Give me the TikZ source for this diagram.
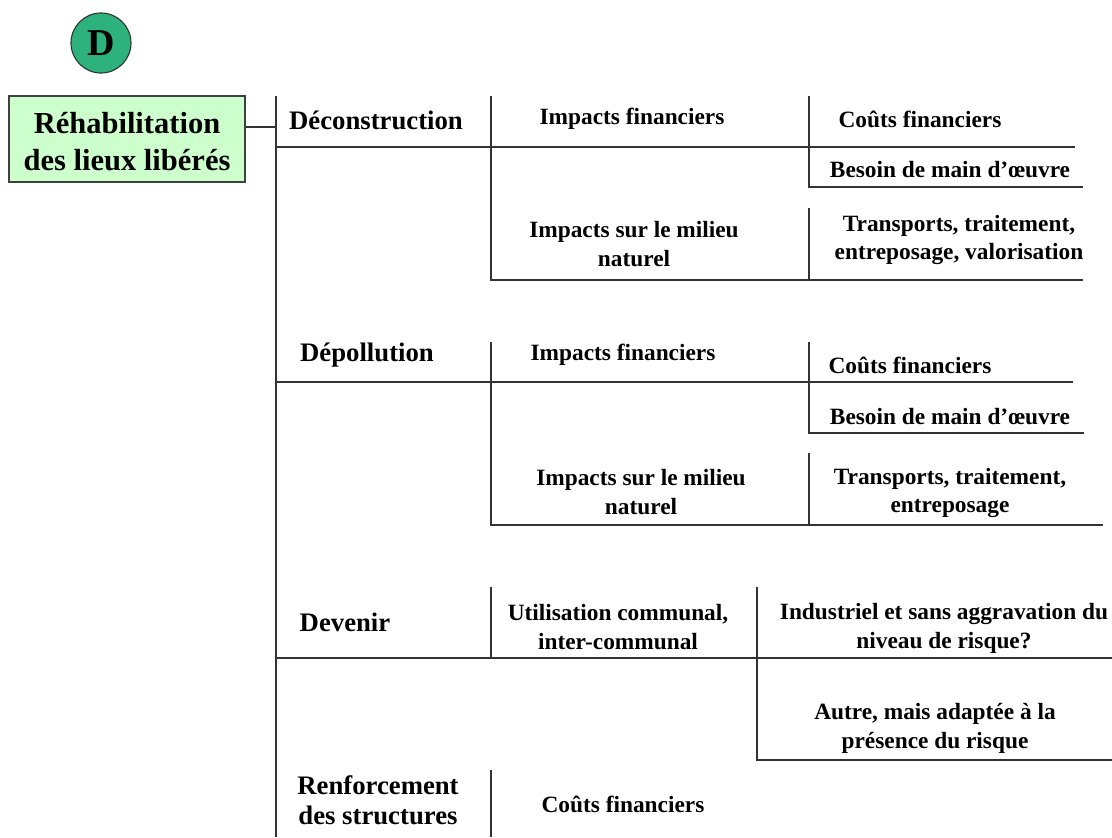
\documentclass[tikz,border=0pt]{standalone}
\usepackage{fontspec}
\setmainfont{Liberation Serif}
\usepackage{tikz}

\definecolor{vertD}{RGB}{45,178,125}
\definecolor{vertclair}{RGB}{204,255,204}
\tikzset{
  trait/.style={line width=1.3pt, black!80},
  rubrique/.style={font=\bfseries\fontsize{19}{21.5}\selectfont, align=center},
  item/.style={font=\bfseries\fontsize{16.6}{20.5}\selectfont, align=center, yshift=-0.05cm},
}

\begin{document}
\begin{tikzpicture}[x=0.025cm, y=-0.025cm]
    \useasboundingbox (0,0) rectangle (1112,837);
    \node[circle, draw=black!80, thick, fill=vertD, minimum size=1.5cm, inner sep=0pt,
          font=\bfseries\fontsize{27}{27}\selectfont] (lettre) at (101,43) {D};
    \node[draw=black!75, line width=1pt, fill=vertclair, minimum width=5.9cm, minimum height=2.15cm,
          align=center, font=\bfseries\fontsize{21.7}{26.2}\selectfont] (titre) at (127,139) {};
    \node[align=center, font=\bfseries\fontsize{21.7}{26.2}\selectfont] (titretxt) at (127,142) {Réhabilitation\\des lieux libérés};
    \coordinate (haut) at (276,96);
    \coordinate (bas) at (276,837);
    \draw[trait] (haut) -- (bas);
    \draw[trait] ([yshift=0.3cm]titre.east) -- ++(31,0);

    % Deconstruction
    \node[rubrique] (deconstr) at (376,120) {Déconstruction};
    \node[item] (impfin1) at (632,117) {Impacts financiers};
    \node[item] (couts1) at (920,117) {Coûts financiers};
    \node[item] (mo1) at (950,168) {Besoin de main d’œuvre};
    \node[item] (milieu1) at (634,242) {Impacts sur le milieu\\naturel};
    \node[item] (transp1) at (959,238) {Transports, traitement,\\entreposage, valorisation};
    \draw[trait] (276,147) -- (1075,147);
    \draw[trait] (491,96) -- (491,280) -- (1083,280);
    \draw[trait] (809,96) -- (809,187) -- (1083,187);
    \draw[trait] (809,208) -- (809,280);

    % Depollution
    \node[rubrique] (depol) at (367,355) {Dépollution};
    \node[item] (impfin2) at (623,353) {Impacts financiers};
    \node[item] (couts2) at (910,363) {Coûts financiers};
    \node[item] (mo2) at (950,415) {Besoin de main d’œuvre};
    \node[item] (milieu2) at (641,490) {Impacts sur le milieu\\naturel};
    \node[item] (transp2) at (950,491) {Transports, traitement,\\entreposage};
    \draw[trait] (276,382) -- (1073,382);
    \draw[trait] (491,342) -- (491,525) -- (1103,525);
    \draw[trait] (809,342) -- (809,433) -- (1084,433);
    \draw[trait] (809,453) -- (809,525);

    % Devenir
    \node[rubrique] (devenir) at (345,622) {Devenir};
    \node[item] (usage) at (618,625) {Utilisation communal,\\inter-communal};
    \node[item] (indus) at (944,626) {Industriel et sans aggravation du\\niveau de risque?};
    \node[item] (autre) at (935,726) {Autre, mais adaptée à la\\présence du risque};
    \draw[trait] (276,658) -- (1112,658);
    \draw[trait] (491,587) -- (491,658);
    \draw[trait] (757,587) -- (757,760) -- (1112,760);

    % Renforcement
    \node[rubrique] (renfort) at (378,800) {Renforcement\\des structures};
    \node[item] (couts3) at (623,802) {Coûts financiers};
    \draw[trait] (491,770) -- (491,837);
\end{tikzpicture}
\end{document}
